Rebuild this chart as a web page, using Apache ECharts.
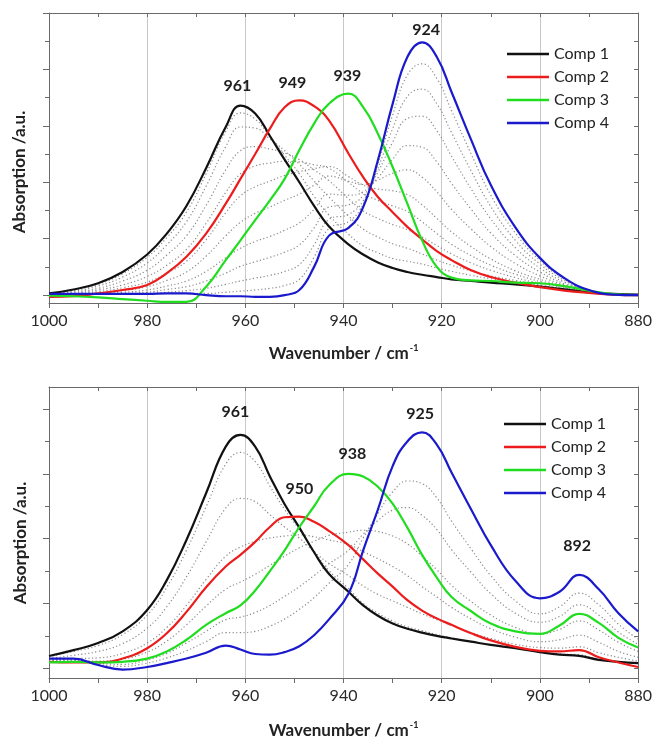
<!DOCTYPE html>
<html>
<head>
<meta charset="utf-8">
<script src="https://cdn.jsdelivr.net/npm/echarts@6/dist/echarts.min.js"></script>
<style>
  html, body { margin: 0; padding: 0; background: #ffffff; }
  #chart { width: 655px; height: 742px; }
</style>
</head>
<body>
<div id="chart"></div>
<script>
// ---------- Upper panel: wavenumber grid (cm-1) ----------
const wnTop = [1000, 995, 990, 985, 980, 976, 972, 968, 964, 961, 958, 955, 952, 949, 946, 943,
               939, 936, 933, 930, 927, 924, 921, 918, 914, 910, 905, 900, 895, 890, 885, 880];

// pure component spectra, upper panel
const topComp1 = [0.03, 0.10, 0.21, 0.41, 0.72, 1.09, 1.58, 2.25, 2.98, 3.36, 3.22, 2.82, 2.40, 2.00, 1.58, 1.22,
                  0.90, 0.72, 0.58, 0.48, 0.41, 0.36, 0.32, 0.28, 0.25, 0.22, 0.19, 0.15, 0.10, 0.05, 0.02, 0.01];
const topComp2 = [-0.03, -0.02, 0.03, 0.09, 0.18, 0.39, 0.68, 1.09, 1.62, 2.06, 2.50, 2.95, 3.33, 3.45, 3.35, 3.10,
                  2.51, 2.09, 1.74, 1.47, 1.21, 0.99, 0.78, 0.62, 0.44, 0.32, 0.22, 0.14, 0.08, 0.04, 0.01, 0.00];
const topComp3 = [-0.01, -0.02, -0.04, -0.07, -0.10, -0.12, -0.12, 0.15, 0.62, 0.97, 1.33, 1.68, 2.06, 2.57, 3.04, 3.39,
                  3.57, 3.33, 2.86, 2.27, 1.62, 0.97, 0.50, 0.31, 0.26, 0.25, 0.22, 0.21, 0.16, 0.08, 0.02, 0.00];
const topComp4 = [0.02, 0.02, 0.02, 0.02, 0.02, 0.03, 0.03, 0.00, -0.02, -0.02, -0.03, -0.03, 0.00, 0.09, 0.50, 1.05,
                  1.19, 1.56, 2.39, 3.39, 4.22, 4.48, 4.22, 3.60, 2.75, 1.95, 1.20, 0.66, 0.30, 0.09, 0.01, 0.00];

// measured intermediate spectra, upper panel (grey dotted)
const topSpec1  = [0.02, 0.09, 0.19, 0.38, 0.67, 1.02, 1.47, 2.15, 2.90, 3.23, 3.12, 2.81, 2.48, 2.15, 1.75, 1.42,
                   1.08, 0.87, 0.75, 0.65, 0.60, 0.55, 0.48, 0.42, 0.35, 0.29, 0.23, 0.17, 0.11, 0.05, 0.02, 0.00];
const topSpec2  = [0.02, 0.07, 0.16, 0.32, 0.57, 0.89, 1.30, 1.93, 2.63, 2.98, 2.96, 2.77, 2.56, 2.32, 2.02, 1.74,
                   1.40, 1.17, 1.03, 0.91, 0.83, 0.73, 0.62, 0.53, 0.43, 0.34, 0.26, 0.18, 0.11, 0.05, 0.02, 0.00];
const topSpec3  = [0.01, 0.05, 0.12, 0.25, 0.44, 0.71, 1.05, 1.59, 2.22, 2.56, 2.63, 2.59, 2.52, 2.40, 2.22, 2.03,
                   1.71, 1.49, 1.36, 1.25, 1.16, 1.03, 0.88, 0.73, 0.57, 0.44, 0.31, 0.21, 0.13, 0.06, 0.01, 0.00];
const topSpec4  = [0.00, 0.03, 0.09, 0.18, 0.33, 0.53, 0.81, 1.27, 1.82, 2.15, 2.29, 2.34, 2.37, 2.36, 2.31, 2.25,
                   2.00, 1.80, 1.68, 1.58, 1.48, 1.30, 1.09, 0.90, 0.70, 0.53, 0.37, 0.24, 0.14, 0.06, 0.01, 0.00];
const topSpec5  = [0.00, 0.02, 0.06, 0.13, 0.23, 0.39, 0.60, 0.98, 1.46, 1.76, 1.92, 2.02, 2.12, 2.19, 2.24, 2.28,
                   2.10, 1.95, 1.88, 1.85, 1.78, 1.60, 1.36, 1.12, 0.86, 0.64, 0.43, 0.28, 0.16, 0.07, 0.01, 0.00];
const topSpec6  = [0.00, 0.02, 0.04, 0.08, 0.15, 0.26, 0.41, 0.69, 1.05, 1.29, 1.45, 1.56, 1.68, 1.79, 1.95, 2.11,
                   2.02, 1.96, 2.04, 2.16, 2.22, 2.09, 1.83, 1.52, 1.17, 0.86, 0.56, 0.34, 0.18, 0.07, 0.01, 0.00];
const topSpec7  = [0.01, 0.01, 0.03, 0.05, 0.09, 0.16, 0.25, 0.42, 0.66, 0.83, 0.95, 1.04, 1.15, 1.28, 1.52, 1.79,
                   1.77, 1.83, 2.08, 2.41, 2.65, 2.62, 2.36, 1.98, 1.52, 1.10, 0.70, 0.41, 0.20, 0.07, 0.01, 0.00];
const topSpec8  = [0.01, 0.01, 0.02, 0.03, 0.05, 0.10, 0.15, 0.25, 0.39, 0.51, 0.59, 0.67, 0.76, 0.89, 1.19, 1.56,
                   1.60, 1.76, 2.18, 2.71, 3.13, 3.17, 2.91, 2.46, 1.88, 1.35, 0.84, 0.48, 0.23, 0.08, 0.01, 0.00];
const topSpec9  = [0.01, 0.01, 0.02, 0.02, 0.03, 0.05, 0.08, 0.12, 0.19, 0.25, 0.30, 0.35, 0.42, 0.54, 0.89, 1.34,
                   1.43, 1.67, 2.25, 2.95, 3.52, 3.65, 3.39, 2.88, 2.20, 1.57, 0.97, 0.55, 0.26, 0.08, 0.01, 0.00];
const topSpec10 = [0.02, 0.02, 0.02, 0.02, 0.02, 0.03, 0.03, 0.03, 0.05, 0.07, 0.09, 0.12, 0.17, 0.28, 0.67, 1.18,
                   1.30, 1.61, 2.33, 3.19, 3.90, 4.10, 3.84, 3.27, 2.50, 1.77, 1.10, 0.61, 0.28, 0.09, 0.01, 0.00];

// ---------- Lower panel: wavenumber grid (cm-1) ----------
const wnBottom = [1000, 995, 990, 985, 980, 976, 972, 968, 964, 961, 958, 955, 952, 949, 946, 943,
                  939, 936, 933, 930, 927, 924, 921, 918, 914, 910, 905, 900, 896, 892, 888, 884, 880];

const botComp1 = [0.19, 0.28, 0.39, 0.57, 0.90, 1.36, 1.98, 2.70, 3.42, 3.60, 3.42, 2.96, 2.53, 2.17, 1.79, 1.46,
                  1.18, 0.97, 0.81, 0.69, 0.61, 0.55, 0.50, 0.46, 0.41, 0.36, 0.31, 0.25, 0.21, 0.19, 0.13, 0.10, 0.08];
const botComp2 = [0.10, 0.09, 0.09, 0.15, 0.31, 0.54, 0.87, 1.25, 1.57, 1.75, 1.95, 2.18, 2.33, 2.34, 2.26, 2.12,
                  1.90, 1.68, 1.46, 1.26, 1.05, 0.89, 0.77, 0.67, 0.54, 0.43, 0.33, 0.27, 0.26, 0.28, 0.17, 0.09, 0.02];
const botComp3 = [0.09, 0.10, 0.09, 0.10, 0.15, 0.26, 0.44, 0.67, 0.85, 0.97, 1.20, 1.50, 1.82, 2.18, 2.50, 2.82,
                  3.00, 2.96, 2.80, 2.54, 2.17, 1.75, 1.40, 1.10, 0.88, 0.69, 0.57, 0.53, 0.66, 0.84, 0.70, 0.47, 0.32];
const botComp4 = [0.15, 0.15, 0.05, -0.02, 0.02, 0.08, 0.15, 0.24, 0.35, 0.29, 0.22, 0.21, 0.25, 0.34, 0.51, 0.75,
                  1.15, 1.82, 2.45, 3.12, 3.50, 3.64, 3.45, 3.02, 2.45, 1.90, 1.35, 1.08, 1.18, 1.44, 1.22, 0.85, 0.57];

const botSpec1 = [0.18, 0.26, 0.35, 0.52, 0.82, 1.25, 1.82, 2.49, 3.15, 3.33, 3.19, 2.81, 2.45, 2.14, 1.81, 1.51,
                  1.23, 1.00, 0.85, 0.73, 0.64, 0.58, 0.52, 0.47, 0.41, 0.36, 0.31, 0.25, 0.22, 0.21, 0.14, 0.10, 0.08];
const botSpec2 = [0.15, 0.20, 0.26, 0.38, 0.62, 0.95, 1.41, 1.95, 2.47, 2.62, 2.57, 2.37, 2.18, 2.01, 1.80, 1.62,
                  1.43, 1.27, 1.14, 1.04, 0.94, 0.84, 0.75, 0.66, 0.55, 0.46, 0.37, 0.32, 0.31, 0.33, 0.24, 0.17, 0.11];
const botSpec3 = [0.13, 0.15, 0.16, 0.23, 0.39, 0.63, 0.97, 1.37, 1.73, 1.87, 1.96, 2.01, 2.04, 2.06, 2.03, 1.98,
                  1.91, 1.80, 1.69, 1.57, 1.43, 1.26, 1.10, 0.94, 0.76, 0.61, 0.48, 0.41, 0.44, 0.51, 0.40, 0.26, 0.17];
const botSpec4 = [0.12, 0.13, 0.11, 0.14, 0.25, 0.42, 0.67, 0.96, 1.22, 1.33, 1.45, 1.59, 1.73, 1.86, 1.96, 2.05,
                  2.10, 2.13, 2.11, 2.04, 1.92, 1.73, 1.52, 1.28, 1.03, 0.82, 0.63, 0.53, 0.60, 0.73, 0.59, 0.40, 0.26];
const botSpec5 = [0.12, 0.12, 0.08, 0.06, 0.13, 0.23, 0.39, 0.57, 0.75, 0.79, 0.86, 0.97, 1.11, 1.26, 1.43, 1.61,
                  1.82, 2.07, 2.28, 2.44, 2.48, 2.36, 2.14, 1.83, 1.48, 1.15, 0.85, 0.71, 0.80, 0.98, 0.82, 0.56, 0.37];
const botSpec6 = [0.13, 0.13, 0.06, 0.03, 0.08, 0.16, 0.27, 0.41, 0.55, 0.55, 0.57, 0.65, 0.76, 0.91, 1.09, 1.31,
                  1.60, 2.01, 2.39, 2.72, 2.89, 2.85, 2.63, 2.27, 1.84, 1.43, 1.04, 0.84, 0.95, 1.16, 0.98, 0.68, 0.45];

// band positions annotated above the component maxima (cm-1)
const topPeaks = [[961], [949], [939], [924]];
const botPeaks = [[961], [950], [938], [925, 892]];

// axis ticks
const xTickLabels = [1000, 980, 960, 940, 920, 900, 880];
const topYMajor = [0, 1, 2, 3, 4, 5];
const topYMinor = [0.5, 1.5, 2.5, 3.5, 4.5];
const botYMajor = [0, 1, 2, 3, 4];
const botYMinor = [0.5, 1.5, 2.5, 3.5];

const compNames = ['Comp 1', 'Comp 2', 'Comp 3', 'Comp 4'];

// ---------- styling ----------
const FONT = 'Lato, "Open Sans", "Liberation Sans", sans-serif';
const COMP_COLORS = ['#111111', '#ec1c1c', '#20dd20', '#1a1acc'];
const FRAME = '#6a6a6a';
const SPEC_GREY = '#8a8a8a';

// label offsets (px) of the band annotations relative to each maximum
const topLabelOffsets = [[[-3, -20]], [[-7, -18]], [[-1, -18]], [[4, -12]]];
const botLabelOffsets = [[[-5, -23]], [[5, -28]], [[-1, -20]], [[3, -19], [-2, -29]]];

function pairs(wn, vals) {
  return wn.map((w, i) => [w, vals[i]]);
}

// local maximum of a series near a given wavenumber
function valueNear(wn, vals, pos) {
  let best = -Infinity;
  wn.forEach((w, i) => {
    if (Math.abs(w - pos) <= 3 && vals[i] > best) best = vals[i];
  });
  return best;
}

function xAxesFor(gridIndex, nameGap) {
  return [
    {
      type: 'value', gridIndex: gridIndex, position: 'bottom',
      min: 880, max: 1000, interval: 20, inverse: true,
      name: '{t|Wavenumber / cm}{s|-1}', nameLocation: 'middle', nameGap: nameGap,
      nameTextStyle: {
        rich: {
          t: { fontFamily: FONT, fontSize: 17, fontWeight: 'bold', color: '#222', lineHeight: 20 },
          s: { fontFamily: FONT, fontSize: 9, fontWeight: 'bold', color: '#222', verticalAlign: 'top', lineHeight: 12, padding: [0, 0, 0, 1] }
        }
      },
      axisLine: { show: true, onZero: false, lineStyle: { color: FRAME, width: 1 } },
      axisTick: { show: true, inside: false, length: 5, lineStyle: { color: FRAME } },
      minorTick: { show: true, splitNumber: 2, length: 5, lineStyle: { color: FRAME } },
      axisLabel: {
        show: true, margin: 10, fontFamily: FONT, fontSize: 16, color: '#2a2a2a',
        showMinLabel: true, showMaxLabel: true,
        formatter: (v) => (xTickLabels.indexOf(v) >= 0 ? String(v) : '')
      },
      splitLine: { show: true, lineStyle: { color: '#c8c8c8', width: 1 } },
      minorSplitLine: { show: false }
    },
    {
      type: 'value', gridIndex: gridIndex, position: 'top',
      min: 880, max: 1000, interval: 10, inverse: true,
      axisLine: { show: true, onZero: false, lineStyle: { color: FRAME, width: 1 } },
      axisTick: { show: true, inside: true, length: 4, lineStyle: { color: FRAME } },
      axisLabel: { show: false },
      splitLine: { show: false }
    }
  ];
}

function yAxesFor(gridIndex, yMin, yMax, major, minor) {
  const base = {
    type: 'value', gridIndex: gridIndex, min: yMin, max: yMax,
    axisLabel: { show: false }, splitLine: { show: false }
  };
  return [
    Object.assign({}, base, {
      position: 'left',
      axisLine: { show: true, onZero: false, lineStyle: { color: FRAME, width: 1 } },
      axisTick: { show: true, inside: false, length: 6, customValues: major, lineStyle: { color: FRAME } }
    }),
    Object.assign({}, base, {
      position: 'left',
      axisLine: { show: false },
      axisTick: { show: true, inside: false, length: 4, customValues: minor, lineStyle: { color: FRAME } }
    }),
    Object.assign({}, base, {
      position: 'right',
      axisLine: { show: true, onZero: false, lineStyle: { color: FRAME, width: 1 } },
      axisTick: { show: true, inside: true, length: 4, customValues: major.concat(minor), lineStyle: { color: FRAME } }
    })
  ];
}

const series = [];

function addPanel(xIndex, yIndex, wn, spectra, comps, peaks, offsets) {
  spectra.forEach((vals) => {
    series.push({
      type: 'line', xAxisIndex: xIndex, yAxisIndex: yIndex,
      data: pairs(wn, vals), showSymbol: false, smooth: 0.45, silent: true, z: 2,
      color: SPEC_GREY,
      lineStyle: { width: 1.2, type: [1.2, 2.4], color: SPEC_GREY }
    });
  });
  comps.forEach((vals, k) => {
    series.push({
      type: 'line', name: compNames[k], xAxisIndex: xIndex, yAxisIndex: yIndex,
      data: pairs(wn, vals), showSymbol: false, smooth: 0.45, z: 3,
      color: COMP_COLORS[k],
      lineStyle: { width: 2.2, color: COMP_COLORS[k] },
      markPoint: {
        silent: true, symbol: 'circle', symbolSize: 0, animation: false,
        label: {
          show: true, position: 'inside', formatter: '{b}',
          fontFamily: FONT, fontSize: 16, fontWeight: 'bold', color: '#1e1e1e'
        },
        data: peaks[k].map((p, j) => ({
          name: String(p),
          coord: [p, valueNear(wn, vals, p)],
          label: { offset: offsets[k][j] }
        }))
      }
    });
  });
}

addPanel(0, 0, wnTop,
  [topSpec1, topSpec2, topSpec3, topSpec4, topSpec5, topSpec6, topSpec7, topSpec8, topSpec9, topSpec10],
  [topComp1, topComp2, topComp3, topComp4], topPeaks, topLabelOffsets);
addPanel(2, 3, wnBottom,
  [botSpec1, botSpec2, botSpec3, botSpec4, botSpec5, botSpec6],
  [botComp1, botComp2, botComp3, botComp4], botPeaks, botLabelOffsets);

function legendAt(left, top) {
  return {
    data: compNames, orient: 'vertical', left: left, top: top,
    icon: 'rect', itemWidth: 42, itemHeight: 2.5, itemGap: 5, selectedMode: false,
    textStyle: { fontFamily: FONT, fontSize: 16, color: '#222', lineHeight: 18 }
  };
}

function yTitle(cx, cy) {
  return {
    type: 'text', x: cx, y: cy, rotation: Math.PI / 2,
    style: {
      text: 'Absorption /a.u.', fill: '#222',
      font: 'bold 17px ' + FONT, textAlign: 'center', textVerticalAlign: 'middle'
    }
  };
}

const chart = echarts.init(document.getElementById('chart'));
chart.setOption({
  animation: false,
  backgroundColor: '#ffffff',
  grid: [
    { left: 49, right: 13, top: 13, height: 290 },
    { left: 49, right: 13, top: 387, height: 291 }
  ],
  xAxis: xAxesFor(0, 41).concat(xAxesFor(1, 43)),
  yAxis: yAxesFor(0, -0.14, 5, topYMajor, topYMinor).concat(yAxesFor(1, -0.15, 4.34, botYMajor, botYMinor)),
  legend: [legendAt(502, 40), legendAt(499, 410)],
  graphic: [yTitle(20, 172), yTitle(21, 543)],
  series: series
});
</script>
</body>
</html>
